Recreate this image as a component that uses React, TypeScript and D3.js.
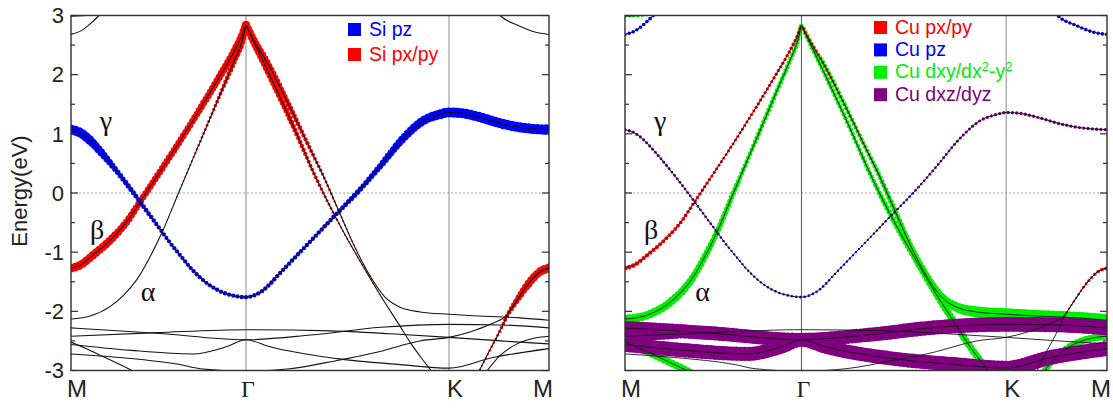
import React, { useEffect, useRef } from 'react';
import * as d3 from 'd3';

type Pt = [number, number];

// k-path coordinate along M – Γ – K – M (arbitrary units)
const kTicks: number[] = [0, 1.75, 3.78, 4.78];
const kLabels: string[] = ['M', 'Γ', 'K', 'M'];
const energyMajor: number[] = [-3, -2, -1, 0, 1, 2, 3];
const energyMinor: number[] = [-2.5, -1.5, -0.5, 0.5, 1.5, 2.5];

// ---- bands [k, E(eV)] ----
const bandGamma: Pt[] = [[0,1.07],[0.09,1.02],[0.19,0.89],[0.29,0.71],[0.39,0.51],[0.49,0.3],[0.59,0.08],[0.69,-0.15],[0.79,-0.38],[0.89,-0.61],[0.99,-0.84],[1.09,-1.05],[1.22,-1.31],[1.34,-1.5],[1.49,-1.66],[1.64,-1.74],[1.75,-1.76],[1.89,-1.68],[2.12,-1.3],[2.29,-1.0],[2.46,-0.7],[2.64,-0.38],[2.79,-0.12],[2.89,0.06],[3.09,0.45],[3.32,0.92],[3.52,1.22],[3.69,1.33],[3.78,1.36],[3.94,1.34],[4.09,1.28],[4.29,1.18],[4.49,1.11],[4.78,1.07]];
const bandBeta: Pt[] = [[0,-1.27],[0.09,-1.22],[0.22,-1.05],[0.39,-0.8],[0.56,-0.48],[0.69,-0.15],[0.89,0.36],[1.09,0.88],[1.29,1.42],[1.49,1.98],[1.64,2.42],[1.71,2.66],[1.75,2.84]];
const bandAlpha: Pt[] = [[0,-2.13],[0.19,-2.08],[0.39,-1.92],[0.52,-1.74],[0.66,-1.46],[0.79,-1.08],[0.92,-0.63],[1.07,-0.02],[1.29,0.86],[1.49,1.66],[1.64,2.26],[1.71,2.56],[1.75,2.84]];
const bandGKOuter: Pt[] = [[1.75,2.84],[1.81,2.64],[1.99,2.12],[2.19,1.45],[2.39,0.75],[2.52,0.3],[2.69,-0.35],[2.84,-0.92],[2.99,-1.4],[3.14,-1.76],[3.29,-1.93],[3.49,-2.01],[3.78,-2.05],[4.09,-2.08],[4.49,-2.11],[4.78,-2.15]];
const bandGKInner: Pt[] = [[1.75,2.84],[1.81,2.62],[1.99,1.98],[2.19,1.25],[2.46,0.22],[2.69,-0.55],[2.89,-1.15],[3.09,-1.72],[3.29,-2.25],[3.39,-2.52],[3.5,-2.78],[3.61,-3.02],[3.69,-3.2]];
const bandKM: Pt[] = [[4.07,-3.05],[4.19,-2.65],[4.29,-2.33],[4.36,-2.08],[4.46,-1.81],[4.59,-1.5],[4.69,-1.33],[4.78,-1.27]];
const bandP: Pt[] = [[0,-2.28],[0.86,-2.37],[1.75,-2.48],[2.4,-2.4],[3.1,-2.27],[3.78,-2.22],[4.3,-2.23],[4.78,-2.28]];
const bandQ: Pt[] = [[0,-2.42],[0.86,-2.36],[1.75,-2.31],[2.6,-2.33],[3.2,-2.38],[3.78,-2.44],[4.3,-2.5],[4.78,-2.55]];
const bandR: Pt[] = [[0,-2.56],[0.6,-2.66],[1.22,-2.72],[1.55,-2.6],[1.75,-2.48],[1.99,-2.6],[2.66,-2.8],[3.29,-2.9],[3.78,-2.96],[4.22,-2.78],[4.78,-2.63]];
const bandS: Pt[] = [[0,-2.52],[0.19,-2.66],[0.39,-2.82],[0.61,-3.0],[0.74,-3.12]];
const bandT: Pt[] = [[0,-2.72],[0.49,-2.78],[1.09,-2.9],[1.29,-2.97],[1.75,-3.01],[2.19,-2.97],[2.66,-2.83],[3.09,-2.68],[3.34,-2.56],[3.49,-2.5],[3.78,-2.44],[3.99,-2.35],[4.19,-2.22],[4.36,-2.06],[4.46,-1.81],[4.59,-1.5],[4.69,-1.33],[4.78,-1.27]];
const bandT2: Pt[] = [[4.14,-3.05],[4.29,-2.75],[4.46,-2.55],[4.64,-2.45],[4.78,-2.42]];
const bandTopL: Pt[] = [[0,2.68],[0.1,2.74],[0.2,2.87],[0.28,3.0],[0.36,3.15]];
const bandTopR: Pt[] = [[4.19,3.2],[4.29,3.0],[4.49,2.82],[4.64,2.72],[4.78,2.68]];
const bandTopEdge: Pt[] = [[0,2.99],[0.15,3.0],[0.3,3.05]];

const allBands: Pt[][] = [bandTopEdge, bandTopL, bandTopR, bandT, bandT2, bandS, bandR, bandQ, bandP, bandKM, bandGKInner, bandGKOuter, bandAlpha, bandBeta, bandGamma];

// ---- orbital weights along bands [k, dot radius] ----
// left panel: Si
const siPzGamma: Pt[] = [[0,5.2],[0.2,4.6],[0.45,2.8],[0.9,2.1],[1.75,2.2],[2.5,2.2],[3.0,2.8],[3.4,4.2],[3.7,5],[4.78,5.2]];
const siPxyBeta: Pt[] = [[0,4.4],[0.4,4.0],[0.7,3.3],[1.2,3.3],[1.75,4.0]];
const siPxyAlpha: Pt[] = [[0.9,0],[1.1,0.8],[1.4,1.5],[1.6,2.6],[1.75,3.5]];
const siPxyOuter: Pt[] = [[1.75,4],[2.0,3.2],[2.4,2.0],[2.7,1.0],[3.0,0.5],[3.2,0]];
const siPxyInner: Pt[] = [[1.75,4],[2.0,3.2],[2.4,2.0],[2.7,1.0],[3.2,0.6],[3.4,0]];
const siPxyKM: Pt[] = [[4.07,1],[4.25,1.3],[4.4,2.5],[4.55,3.8],[4.78,4.6]];
// right panel: Cu
const cuPxyBeta: Pt[] = [[0,2.4],[0.4,2.0],[1.0,1.5],[1.75,1.8]];
const cuPxyOuter: Pt[] = [[1.75,1.6],[2.5,0.9],[3.0,0]];
const cuPxyKM: Pt[] = [[4.3,0.8],[4.5,1.3],[4.78,2]];
const cuPzGamma: Pt[] = [[0,0.5],[1.0,1.0],[1.75,1.4],[2.6,1.0],[3.5,0.6],[4.78,0.5]];
const cuPzTopL: Pt[] = [[0,1.8],[0.36,1.8]];
const cuPzTopR: Pt[] = [[4.19,1.8],[4.78,1.8]];
const cuDxyAlpha: Pt[] = [[0,4.4],[0.5,4.1],[0.9,3.0],[1.2,2.4],[1.75,2.4]];
const cuDxyOuter: Pt[] = [[1.75,2.4],[2.3,2.2],[2.8,2.8],[3.1,4],[3.4,5.5],[3.78,6.2],[4.78,6.2]];
const cuDxyInner: Pt[] = [[1.75,2.4],[2.3,2.2],[2.8,2.9],[3.2,3.6],[3.69,3.6]];
const cuDxyS: Pt[] = [[0,3.8],[0.74,3.8]];
const cuDxyT2: Pt[] = [[4.14,3],[4.78,4]];
const cuDxyTopEdge: Pt[] = [[0,1.8],[0.3,1.8]];
const cuDxzP: Pt[] = [[0,7.2],[1.75,7],[3.78,7.5],[4.78,7.5]];
const cuDxzQ: Pt[] = [[0,6],[0.5,5],[0.86,2],[1.0,0]];
const cuDxzR: Pt[] = [[0,7.5],[1.75,7],[3.78,7.5],[4.78,7.5]];
const cuDxzGamma: Pt[] = [[0,1.7],[1.0,1.2],[1.5,0.6],[2.0,0.6],[2.6,1.2],[3.78,1.7],[4.78,1.7]];

const RED = '#ff0000', BLUE = '#0000ff', GREEN = '#00ee00', PURPLE = '#800080';

const fatLeft = [
  { band: bandBeta, w: siPxyBeta, color: RED },
  { band: bandAlpha, w: siPxyAlpha, color: RED },
  { band: bandGKOuter, w: siPxyOuter, color: RED },
  { band: bandGKInner, w: siPxyInner, color: RED },
  { band: bandKM, w: siPxyKM, color: RED },
  { band: bandGamma, w: siPzGamma, color: BLUE },
];
const fatRight = [
  { band: bandAlpha, w: cuDxyAlpha, color: GREEN },
  { band: bandGKOuter, w: cuDxyOuter, color: GREEN },
  { band: bandGKInner, w: cuDxyInner, color: GREEN },
  { band: bandS, w: cuDxyS, color: GREEN },
  { band: bandT2, w: cuDxyT2, color: GREEN },
  { band: bandTopEdge, w: cuDxyTopEdge, color: GREEN },
  { band: bandP, w: cuDxzP, color: PURPLE },
  { band: bandQ, w: cuDxzQ, color: PURPLE },
  { band: bandR, w: cuDxzR, color: PURPLE },
  { band: bandGamma, w: cuDxzGamma, color: PURPLE },
  { band: bandBeta, w: cuPxyBeta, color: RED },
  { band: bandGKOuter, w: cuPxyOuter, color: RED },
  { band: bandKM, w: cuPxyKM, color: RED },
  { band: bandGamma, w: cuPzGamma, color: BLUE },
  { band: bandTopL, w: cuPzTopL, color: BLUE },
  { band: bandTopR, w: cuPzTopR, color: BLUE },
];

const legendLeftNames: string[] = ['Si pz', 'Si px/py'];
const legendLeftColors: string[] = [BLUE, RED];
const legendRightNames: string[] = ['Cu px/py', 'Cu pz', 'Cu dxy/dx^2-y^2', 'Cu dxz/dyz'];
const legendRightColors: string[] = [RED, BLUE, GREEN, PURPLE];

const greekNames: string[] = ['γ', 'β', 'α'];
const greekPos: Pt[] = [[0.35, 1.2], [0.26, -0.63], [0.77, -1.68]];

const SANS = '"Liberation Sans", Arial, Helvetica, sans-serif';
const SERIF = '"Liberation Serif", "Times New Roman", serif';

export default function App() {
  const ref = useRef<SVGSVGElement>(null);

  useEffect(() => {
    const svg = d3.select(ref.current);
    svg.selectAll('*').remove();
    const yTop = 15.5, yBot = 370.5;
    const y = d3.scaleLinear().domain([-3, 3]).range([yBot, yTop]);

    const panels = [
      { id: 'L', x0: 71, x1: 549, fat: fatLeft, yLabels: true, names: legendLeftNames, colors: legendLeftColors, lx: 348, ly: 23, ldy: 25 },
      { id: 'R', x0: 625, x1: 1107, fat: fatRight, yLabels: false, names: legendRightNames, colors: legendRightColors, lx: 874, ly: 21, ldy: 22.4 },
    ];

    const defs = svg.append('defs');

    panels.forEach((p) => {
      const x = d3.scaleLinear().domain([kTicks[0], kTicks[kTicks.length - 1]]).range([p.x0, p.x1]);
      defs.append('clipPath').attr('id', 'clip' + p.id)
        .append('rect').attr('x', p.x0).attr('y', yTop).attr('width', p.x1 - p.x0).attr('height', yBot - yTop);

      const g = svg.append('g').attr('clip-path', `url(#clip${p.id})`);
      // zero line
      g.append('line').attr('x1', p.x0).attr('x2', p.x1).attr('y1', y(0)).attr('y2', y(0))
        .attr('stroke', '#a0a0a0').attr('stroke-width', 1).attr('stroke-dasharray', '2,2');
      // high-symmetry verticals
      g.selectAll('line.v').data(kTicks.slice(1, -1)).join('line').attr('class', 'v')
        .attr('x1', (d) => x(d)).attr('x2', (d) => x(d)).attr('y1', yTop).attr('y2', yBot)
        .attr('stroke', (d, i) => (p.id === 'R' && i === 0 ? '#555' : '#8a8a8a')).attr('stroke-width', 1);

      const dotsG = g.append('g');
      const linesG = g.append('g');
      const line = d3.line<Pt>().x((d) => x(d[0])).y((d) => y(d[1])).curve(d3.curveMonotoneX);

      const pathNodes = new Map<Pt[], SVGPathElement>();
      allBands.forEach((b) => {
        const path = linesG.append('path').attr('d', line(b) as string).attr('fill', 'none')
          .attr('stroke', '#151515').attr('stroke-width', p.id === 'R' ? 0.9 : 1.1);
        pathNodes.set(b, path.node() as SVGPathElement);
      });

      p.fat.forEach((f) => {
        const node = pathNodes.get(f.band)!;
        const len = node.getTotalLength();
        const wk = f.w.map((d) => d[0]);
        const r = d3.scaleLinear().domain(wk).range(f.w.map((d) => d[1]));
        const pts: { x: number; y: number; r: number }[] = [];
        for (let s = 0; s <= len; s += 4.3) {
          const pt = node.getPointAtLength(s);
          const k = x.invert(pt.x);
          if (k < wk[0] - 1e-6 || k > wk[wk.length - 1] + 1e-6) continue;
          const rr = r(k);
          if (rr < 0.3) continue;
          pts.push({ x: pt.x, y: pt.y, r: rr });
        }
        dotsG.append('g').selectAll('circle').data(pts).join('circle')
          .attr('cx', (d) => d.x).attr('cy', (d) => d.y).attr('r', (d) => d.r).attr('fill', f.color);
      });

      // frame
      svg.append('rect').attr('x', p.x0).attr('y', yTop).attr('width', p.x1 - p.x0).attr('height', yBot - yTop)
        .attr('fill', 'none').attr('stroke', '#303030').attr('stroke-width', 1.4);

      // ticks (inward, both sides)
      const tg = svg.append('g').attr('stroke', '#303030').attr('stroke-width', 1.2);
      [[energyMajor, 7], [energyMinor, 4]].forEach(([vals, len]) => {
        (vals as number[]).forEach((v) => {
          tg.append('line').attr('x1', p.x0).attr('x2', p.x0 + (len as number)).attr('y1', y(v)).attr('y2', y(v));
          tg.append('line').attr('x1', p.x1).attr('x2', p.x1 - (len as number)).attr('y1', y(v)).attr('y2', y(v));
        });
      });

      if (p.yLabels) {
        svg.append('g').selectAll('text').data(energyMajor).join('text')
          .attr('x', p.x0 - 7).attr('y', (d) => y(d)).attr('dy', '0.35em').attr('text-anchor', 'end')
          .attr('font-family', SANS).attr('font-size', 22).attr('fill', '#222').text((d) => String(d));
        svg.append('text').attr('transform', `translate(27,${y(0) - 2}) rotate(-90)`)
          .attr('text-anchor', 'middle').attr('font-family', SANS).attr('font-size', 22).attr('fill', '#222')
          .text('Energy(eV)');
      }

      // k labels
      kLabels.forEach((lab, i) => {
        const isFirst = i === 0, isLast = i === kLabels.length - 1;
        const xx = isFirst ? x(kTicks[i]) - 4 : isLast ? x(kTicks[i]) + 4 : x(kTicks[i]) + (lab === 'K' ? 6 : 2);
        svg.append('text').attr('x', xx).attr('y', 397)
          .attr('text-anchor', isFirst ? 'start' : isLast ? 'end' : 'middle')
          .attr('font-family', lab === 'Γ' ? SERIF : SANS).attr('font-size', 24).attr('fill', '#222').text(lab);
      });

      // greek band labels
      greekNames.forEach((gn, i) => {
        svg.append('text').attr('x', x(greekPos[i][0])).attr('y', y(greekPos[i][1])).attr('dy', '0.3em')
          .attr('text-anchor', 'middle').attr('font-family', SERIF).attr('font-size', 28).attr('fill', '#111').text(gn);
      });

      // legend
      p.names.forEach((nm, i) => {
        const yy = p.ly + i * p.ldy;
        svg.append('rect').attr('x', p.lx).attr('y', yy).attr('width', 13).attr('height', 13).attr('fill', p.colors[i]);
        const t = svg.append('text').attr('x', p.lx + 21).attr('y', yy + 12.5)
          .attr('font-family', SANS).attr('font-size', 19.5).attr('fill', p.colors[i]);
        const parts = nm.split(/(\^\d)/).filter((s) => s !== '');
        let raised = false;
        parts.forEach((s) => {
          if (s.startsWith('^')) {
            t.append('tspan').attr('dy', raised ? 0 : -7).attr('font-size', 13).text(s.slice(1));
            raised = true;
          } else {
            t.append('tspan').attr('dy', raised ? 7 : 0).text(s);
            raised = false;
          }
        });
      });
    });
  }, []);

  return (
    <svg ref={ref} width={1113} height={409}
      style={{ position: 'absolute', left: 0, top: 0, background: '#fff', display: 'block' }} />
  );
}
